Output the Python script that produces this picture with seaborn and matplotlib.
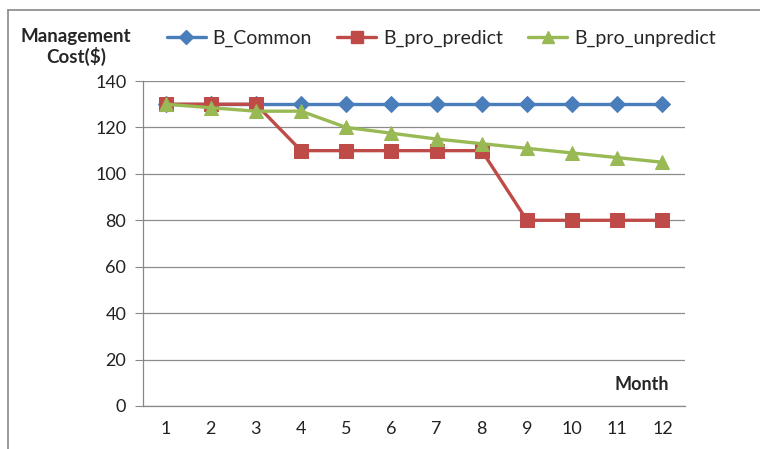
import matplotlib
matplotlib.use('Agg')
import matplotlib.pyplot as plt
import seaborn as sns
import pandas as pd
from matplotlib.lines import Line2D

months = list(range(1, 13))
b_common = [130] * 12
b_pro_predict = [130, 130, 130, 110, 110, 110, 110, 110, 80, 80, 80, 80]
b_pro_unpredict = [130, 128.5, 127, 127, 120, 117.5, 115, 113, 111, 109, 107, 105]

series_names = ['B_Common', 'B_pro_predict', 'B_pro_unpredict']
colors = ['#4A7EBB', '#BE4B48', '#98B954']
markers = ['D', 's', '^']
msizes = [8.5, 10, 10]

sns.set_style('white')
plt.rcParams['font.family'] = ['Lato', 'DejaVu Sans']

fig = plt.figure(figsize=(7.6, 4.49), dpi=100)
ax = fig.add_axes([143 / 760, 43 / 449, 542 / 760, 325 / 449])

for name, vals, c, m, ms in zip(series_names, [b_common, b_pro_predict, b_pro_unpredict],
                                colors, markers, msizes):
    df = pd.DataFrame({'Month': months, 'Cost': vals})
    sns.lineplot(data=df, x='Month', y='Cost', ax=ax, color=c, linewidth=2.4,
                 marker=m, markersize=ms, markeredgecolor=c, label=name, legend=False)

ax.set_xlim(0.5, 12.5)
ax.set_ylim(0, 140)
ax.set_yticks(range(0, 141, 20))
ax.set_xticks(months)
ax.set_xticks([i + 0.5 for i in range(0, 13)], minor=True)
ax.tick_params(axis='x', which='major', length=0, pad=11, labelsize=13, colors='#222222')
ax.tick_params(axis='x', which='minor', length=6, color='#888888', direction='out')
ax.tick_params(axis='y', length=6, color='#888888', labelsize=13, colors='#222222', pad=6,
               left=True)
ax.grid(axis='y', color='#8c8c8c', linewidth=0.9)
ax.set_axisbelow(True)
for s in ['top', 'right']:
    ax.spines[s].set_visible(False)
for s in ['left', 'bottom']:
    ax.spines[s].set_color('#888888')
    ax.spines[s].set_linewidth(0.9)
ax.set_xlabel('')
ax.set_ylabel('')

ax.text(0.97, 0.065, 'Month', transform=ax.transAxes, ha='right', va='center',
        fontsize=13, fontweight='bold')
fig.text(76 / 760, 1 - 47 / 449, 'Management\nCost($)', ha='center', va='center',
         fontsize=13.5, fontweight='bold', linespacing=1.1)

handles = [Line2D([], [], color=c, marker=m, markersize=ms * 0.8, linewidth=2.4,
                  markeredgecolor=c) for c, m, ms in zip(colors, markers, msizes)]
fig.legend(handles, series_names, loc='center left', bbox_to_anchor=(167 / 760, 1 - 38 / 449),
           ncol=3, frameon=False, fontsize=14, handlelength=2.0, handletextpad=0.35,
           columnspacing=1.3, borderaxespad=0, borderpad=0)

# outer chart frame (left and top edges)
fig.add_artist(Line2D([8 / 760, 8 / 760], [0, 1 - 10 / 449], color='#888888', linewidth=1.2))
fig.add_artist(Line2D([8 / 760, 1], [1 - 10 / 449, 1 - 10 / 449], color='#888888', linewidth=1.2))

fig.savefig('out.png', dpi=100)
